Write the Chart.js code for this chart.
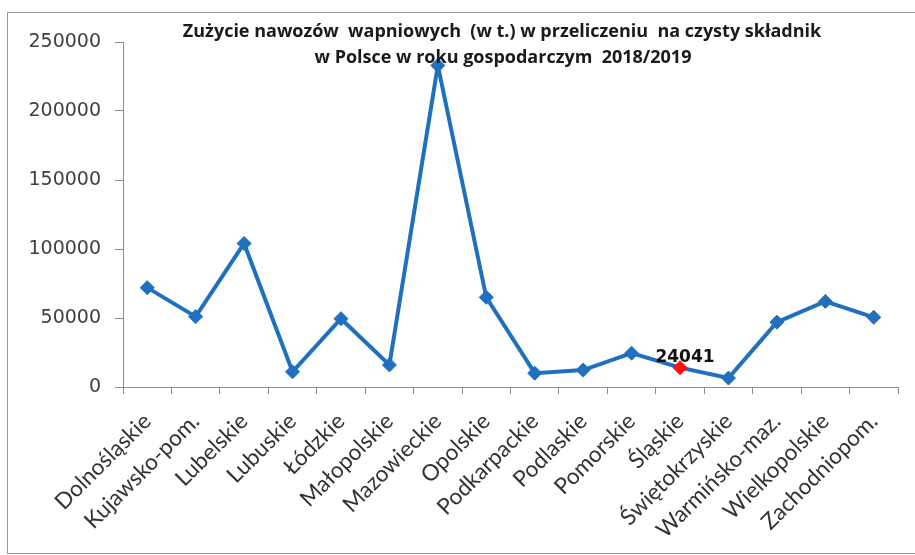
<!DOCTYPE html>
<html>
<head>
<meta charset="utf-8">
<title>Nawozy wapniowe</title>
<style>
  body { margin: 0; background: #fff; }
  #wrap { width: 915px; height: 555px; }
</style>
</head>
<body>
<div id="wrap"><canvas id="chart" width="915" height="555"></canvas></div>
<script src="https://cdn.jsdelivr.net/npm/chart.js@4/dist/chart.umd.min.js"></script>
<script>
// dane (t)
const regions = ['Dolnośląskie', 'Kujawsko-pom.', 'Lubelskie', 'Lubuskie', 'Łódzkie', 'Małopolskie',
  'Mazowieckie', 'Opolskie', 'Podkarpackie', 'Podlaskie', 'Pomorskie', 'Śląskie',
  'Świętokrzyskie', 'Warmińsko-maz.', 'Wielkopolskie', 'Zachodniopom.'];
const usage = [72000, 51000, 104000, 11000, 49500, 16000,
  233000, 65000, 10000, 12300, 24500, 14000,
  6500, 47000, 62000, 50500];
const yTicks = [0, 50000, 100000, 150000, 200000, 250000];
const highlightName = 'Śląskie';
const highlightText = '24041';
const titleLines = ['Zużycie nawozów  wapniowych  (w t.) w przeliczeniu  na czysty składnik',
  'w Polsce w roku gospodarczym  2018/2019'];

const blue = '#1f70bf';
const red = '#ff1010';
const hi = regions.indexOf(highlightName);
const pointColors = regions.map((r, i) => i === hi ? red : blue);

// ramka, tytuł i etykieta punktu
const extras = {
  id: 'extras',
  afterDraw(chart) {
    const ctx = chart.ctx;
    ctx.save();
    ctx.strokeStyle = '#9a9a9a';
    ctx.lineWidth = 1;
    ctx.strokeRect(7.5, 12.5, 940, 541);

    ctx.fillStyle = '#1a1a1a';
    ctx.font = 'bold 18px "Open Sans"';
    ctx.textAlign = 'center';
    ctx.textBaseline = 'alphabetic';
    ctx.fillText(titleLines[0], 502, 37);
    ctx.fillText(titleLines[1], 503, 63);

    const pt = chart.getDatasetMeta(0).data[hi];
    ctx.fillStyle = '#111';
    ctx.font = 'bold 17px "DejaVu Sans"';
    ctx.textBaseline = 'bottom';
    ctx.fillText(highlightText, pt.x + 5, pt.y - 2);
    ctx.restore();
  }
};

new Chart(document.getElementById('chart'), {
  type: 'line',
  data: {
    labels: regions,
    datasets: [{
      data: usage,
      borderColor: blue,
      borderWidth: 4,
      pointStyle: 'rectRot',
      pointRadius: 7,
      pointBackgroundColor: pointColors,
      pointBorderColor: pointColors,
      pointBorderWidth: 1,
      tension: 0
    }]
  },
  options: {
    responsive: false,
    animation: false,
    layout: { padding: { top: 42, right: 17, left: 0, bottom: 0 } },
    plugins: { legend: { display: false }, tooltip: { enabled: false } },
    scales: {
      x: {
        offset: true,
        grid: { offset: true, drawOnChartArea: false, color: '#8c8c8c', tickLength: 7, tickColor: '#8c8c8c' },
        border: { color: '#8c8c8c', width: 1 },
        ticks: {
          autoSkip: false, minRotation: 45, maxRotation: 45, padding: 14,
          color: '#333', font: { family: 'Lato', size: 22.5 }
        },
        afterFit(s) { s.height = 168; }
      },
      y: {
        min: 0, max: 250000,
        afterBuildTicks(s) { s.ticks = yTicks.map(v => ({ value: v })); },
        grid: { drawOnChartArea: false, color: '#8c8c8c', tickLength: 8, tickColor: '#8c8c8c' },
        border: { color: '#8c8c8c', width: 1 },
        ticks: {
          padding: 14, color: '#404040', font: { family: 'DejaVu Sans', size: 19 },
          callback: v => String(v)
        },
        afterFit(s) { s.width = 123; }
      }
    }
  },
  plugins: [extras]
});
</script>
</body>
</html>
